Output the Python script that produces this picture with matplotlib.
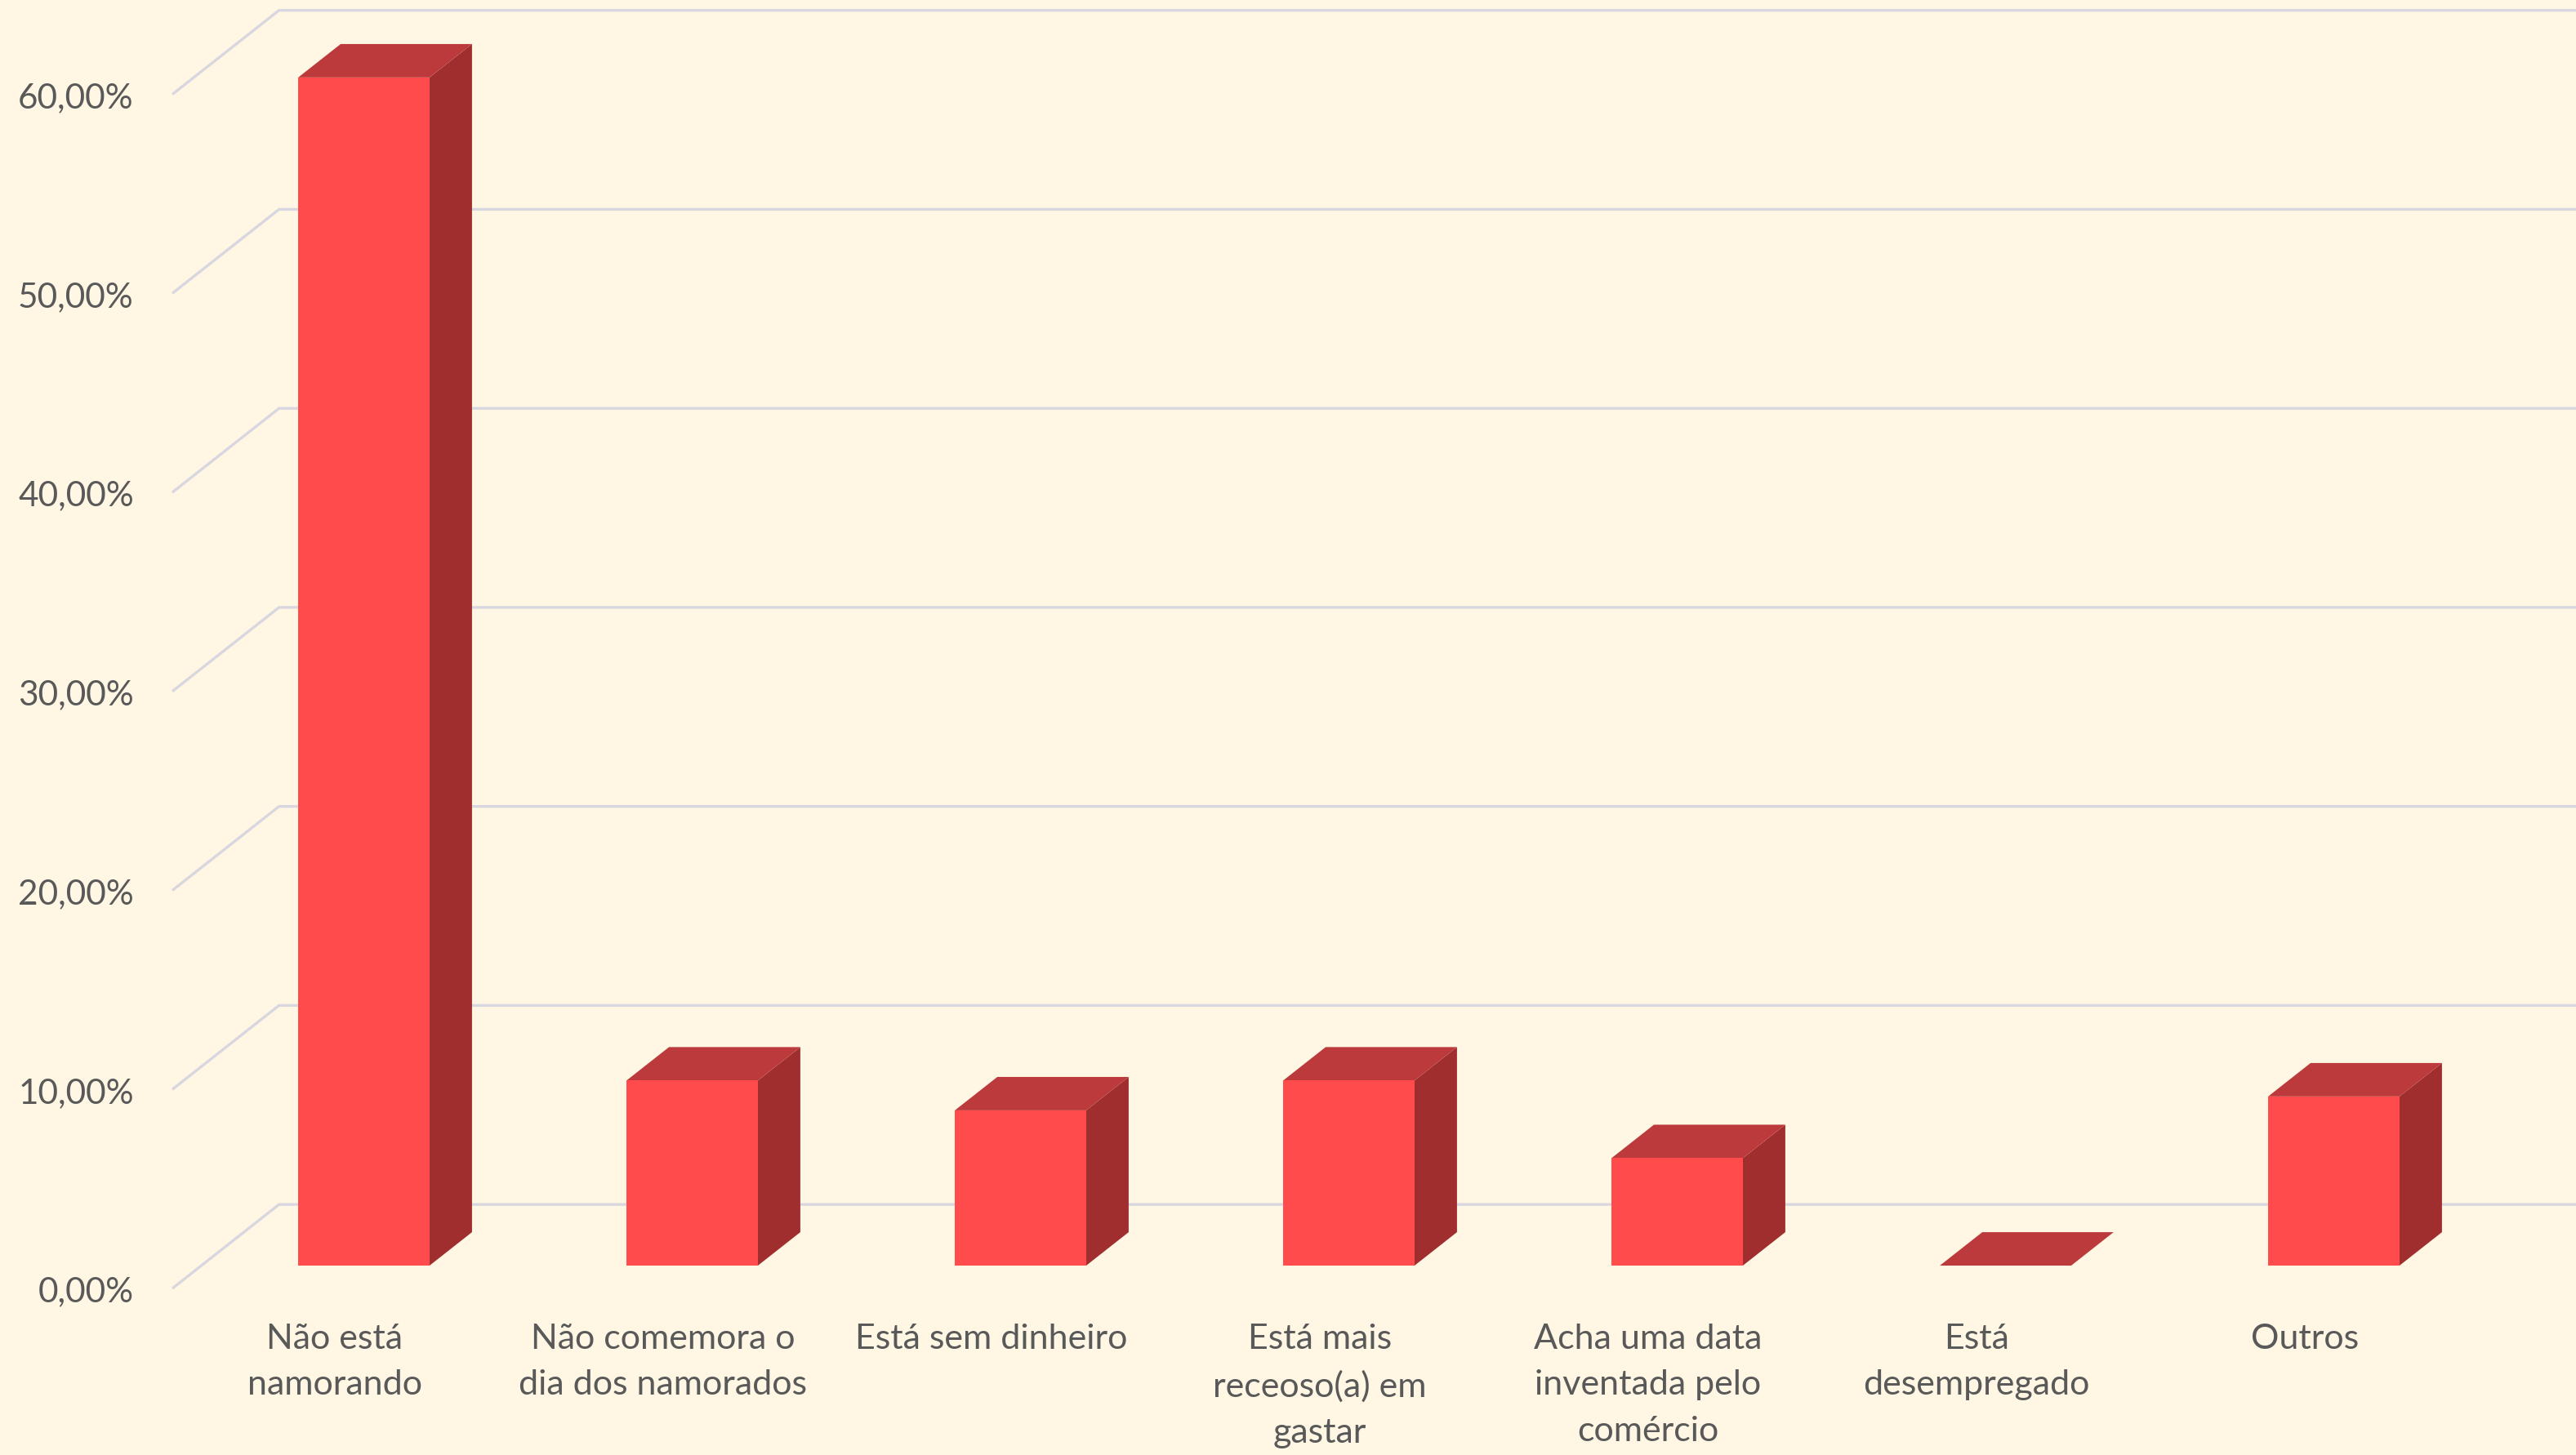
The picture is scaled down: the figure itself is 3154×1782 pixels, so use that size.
import numpy as np
import matplotlib
matplotlib.use("Agg")
import matplotlib.pyplot as plt
from matplotlib.patches import Polygon

# data (percent)
categories = [
    "Não está\nnamorando",
    "Não comemora o\ndia dos namorados",
    "Está sem dinheiro",
    "Está mais\nreceoso(a) em\ngastar",
    "Acha uma data\ninventada pelo\ncomércio",
    "Está\ndesempregado",
    "Outros",
]
values = [59.7, 9.3, 7.8, 9.3, 5.4, 0.0, 8.5]
y_ticks = [0, 10, 20, 30, 40, 50, 60]
y_tick_labels = ["0,00%", "10,00%", "20,00%", "30,00%", "40,00%", "50,00%", "60,00%"]

# oblique 3d look: shift per unit of depth, in data units
kx, ky = 0.325, 4.22
z_front, z_back = 0.272, 0.67
bar_w = 0.4
wall_x = -0.495

bg = "#FFF7E4"
grid_c = "#D8D6DE"
face_c = "#FF4B4B"
top_c = "#BC3A3B"
side_c = "#A02E2F"
text_c = "#595959"


def proj(x, y, z):
    return (x + z * kx, y + z * ky)


fig = plt.figure(figsize=(31.54, 17.83), dpi=100, facecolor=bg)
ax = fig.add_axes([211 / 3154, 1 - 1579 / 1783, 1 - 211 / 3154, 1579 / 1783])
ax.set_facecolor(bg)
ax.set_xlim(wall_x, 6.826)
ax.set_ylim(0, 64.78)

# gridlines: diagonal on the side wall, then along the back wall
for v in y_ticks:
    p0 = proj(wall_x, v, 0)
    p1 = proj(wall_x, v, 1)
    ax.plot([p0[0], p1[0], 7.5], [p0[1], p1[1], p1[1]], color=grid_c,
            lw=2.4, solid_capstyle="butt", zorder=1, clip_on=False)

x = np.arange(len(values))
dxf, dyf = proj(0, 0, z_front)
dxb, dyb = proj(0, 0, z_back)

for i, v in enumerate(values):
    x0 = i - bar_w / 2 + dxf
    x1 = i + bar_w / 2 + dxf
    y0 = dyf
    y1 = v + dyf
    ddx, ddy = dxb - dxf, dyb - dyf
    side = Polygon([(x1, y0), (x1 + ddx, y0 + ddy), (x1 + ddx, y1 + ddy), (x1, y1)],
                   closed=True, facecolor=side_c, edgecolor="none", zorder=3)
    top = Polygon([(x0, y1), (x1, y1), (x1 + ddx, y1 + ddy), (x0 + ddx, y1 + ddy)],
                  closed=True, facecolor=top_c, edgecolor="none", zorder=3)
    ax.add_patch(side)
    ax.add_patch(top)

ax.bar(x + dxf, values, width=bar_w, bottom=dyf, color=face_c, zorder=4)

ax.set_yticks(y_ticks)
ax.set_yticklabels(y_tick_labels)
ax.set_xticks(x)
ax.set_xticklabels(categories, linespacing=1.6)
ax.tick_params(axis="y", length=0, pad=34, labelsize=30.5, labelcolor=text_c)
ax.tick_params(axis="x", length=0, pad=30, labelsize=31, labelcolor=text_c)
for lab in ax.get_xticklabels() + ax.get_yticklabels():
    lab.set_fontfamily("Lato")
for s in ax.spines.values():
    s.set_visible(False)

fig.savefig("out.png", dpi=100, facecolor=bg)
